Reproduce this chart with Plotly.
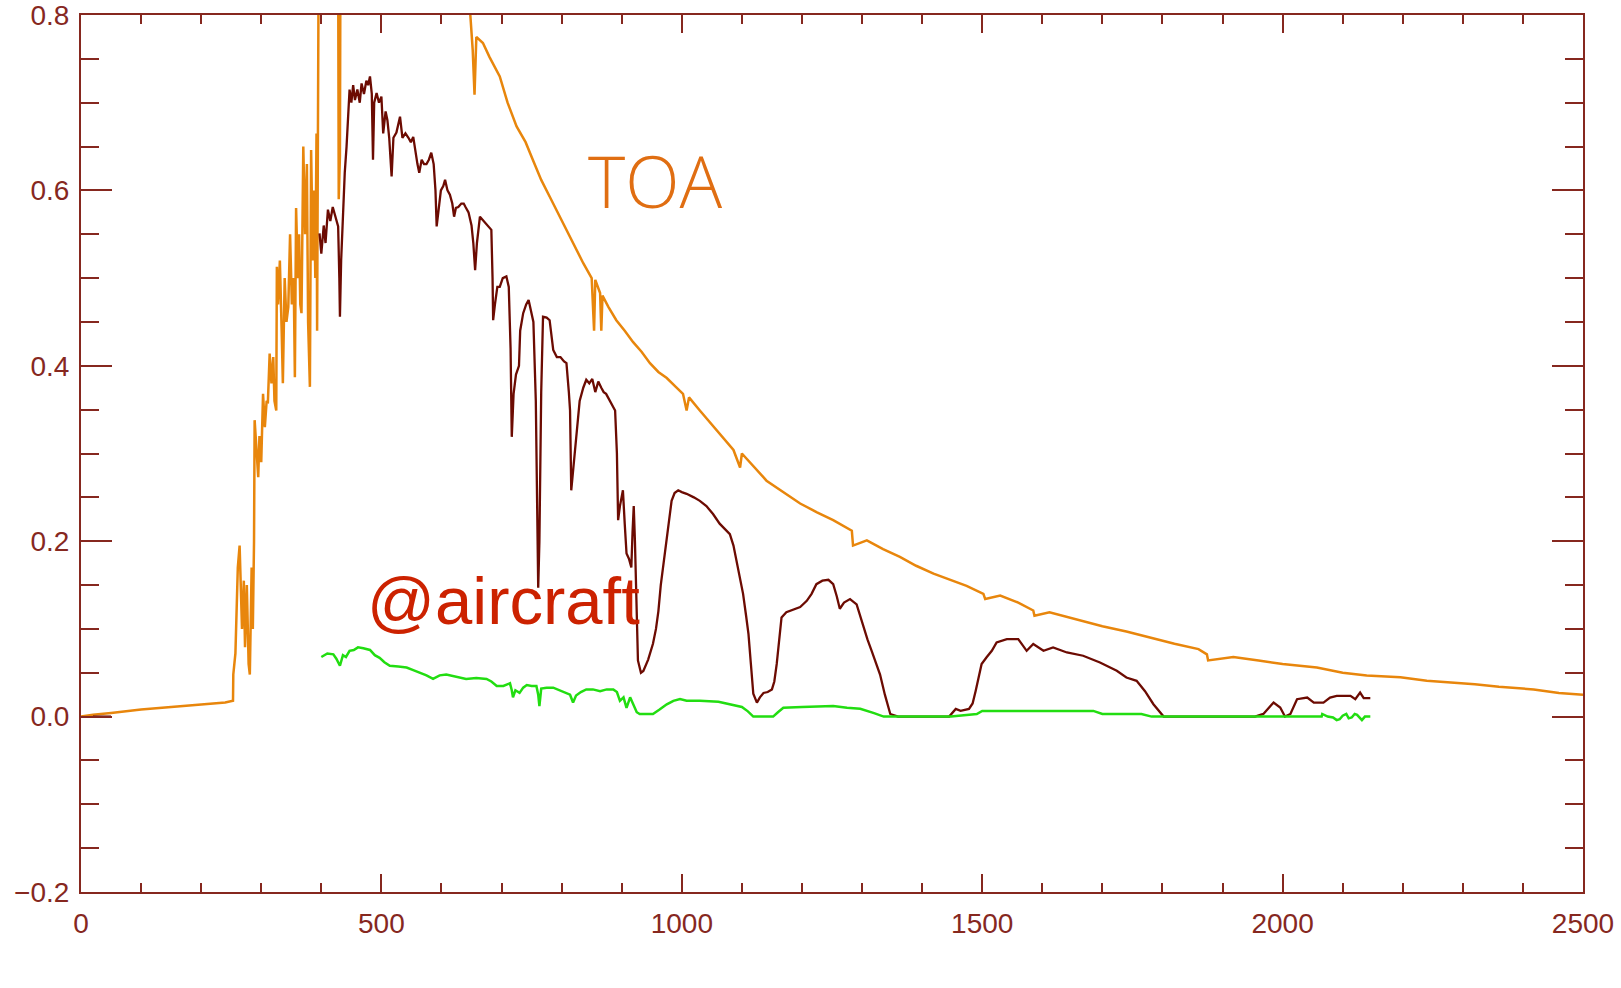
import plotly.graph_objects as go

# ---------------- data ----------------
toa_x = [0, 20, 50, 100, 150, 200, 240, 253, 253.5, 257, 261, 264, 268, 271, 273, 276, 279, 281,
         283, 284, 286, 288, 289, 292, 295, 297, 300, 303, 306, 309, 311, 314, 317, 320, 322,
         325, 326, 328, 331, 334, 336, 339, 342, 345, 348, 351, 354, 356, 358, 361, 363, 365,
         367, 370, 373, 376, 378, 381, 383, 386, 388, 390, 392, 393, 395, 397, 427, 429, 431,
         433, 500, 550, 600, 640, 648, 652, 655, 658, 669, 680, 697, 710, 725, 740, 752, 766,
         780, 794, 808, 822, 836, 850, 854, 856, 860, 864, 866, 868, 878, 891, 905, 919, 933,
         947, 961, 975, 990, 1002, 1008, 1012, 1030, 1058, 1086, 1097, 1100, 1141, 1170, 1197,
         1225, 1252, 1283, 1285, 1308, 1335, 1363, 1390, 1419, 1447, 1474, 1502, 1505, 1530,
         1560, 1585, 1587, 1612, 1641, 1670, 1700, 1740, 1779, 1820, 1860, 1874, 1876, 1918,
         1960, 2000, 2057, 2100, 2140, 2196, 2240, 2279, 2320, 2360, 2418, 2460, 2500]
toa_y = [0.0, 0.002, 0.004, 0.008, 0.011, 0.014, 0.016, 0.018, 0.048, 0.072, 0.170, 0.195,
         0.100, 0.155, 0.079, 0.150, 0.060, 0.048, 0.120, 0.170, 0.100, 0.200, 0.338, 0.300,
         0.273, 0.320, 0.290, 0.368, 0.330, 0.360, 0.357, 0.414, 0.380, 0.410, 0.360, 0.349,
         0.513, 0.470, 0.520, 0.440, 0.380, 0.500, 0.450, 0.467, 0.550, 0.470, 0.500, 0.387,
         0.580, 0.500, 0.550, 0.470, 0.460, 0.650, 0.550, 0.630, 0.450, 0.376, 0.646, 0.520,
         0.600, 0.500, 0.665, 0.440, 0.690, 1.100, 1.150, 0.590, 0.640, 1.200, 1.450, 1.400,
         1.300, 1.050, 0.800, 0.760, 0.709, 0.775, 0.768, 0.752, 0.730, 0.700, 0.673, 0.655,
         0.635, 0.612, 0.593, 0.574, 0.555, 0.536, 0.517, 0.500, 0.440, 0.498, 0.490, 0.483,
         0.440, 0.480, 0.467, 0.452, 0.440, 0.427, 0.416, 0.403, 0.393, 0.386, 0.376, 0.368,
         0.349, 0.364, 0.349, 0.326, 0.304, 0.284, 0.300, 0.269, 0.255, 0.243, 0.233, 0.224,
         0.212, 0.195, 0.201, 0.191, 0.182, 0.172, 0.163, 0.156, 0.149, 0.140, 0.134, 0.138,
         0.130, 0.121, 0.115, 0.119, 0.114, 0.109, 0.103, 0.097, 0.090, 0.083, 0.077, 0.071,
         0.064, 0.068, 0.064, 0.060, 0.056, 0.050, 0.047, 0.045, 0.041, 0.039, 0.037, 0.034,
         0.031, 0.027, 0.025, 0.024]

air_x = [20, 50, None,
         397, 400, 404, 407, 411, 415, 419, 424, 428, 430, 431, 433, 436, 439, 442, 445, 447,
         450, 453, 456, 460, 464, 467, 471, 475, 478, 481, 484, 486, 488, 492, 496, 500, 503,
         507, 510, 513, 517, 520, 525, 528, 531, 535, 540, 545, 549, 553, 557, 560, 563, 567,
         571, 575, 579, 583, 587, 590, 592, 595, 599, 603, 606, 610, 614, 618, 621, 624, 628,
         633, 637, 640, 645, 650, 653, 656, 659, 664, 670, 676, 683, 685, 686, 689, 693, 697,
         702, 708, 712, 715, 717, 720, 724, 729, 731, 736, 741, 745, 750, 753, 757, 759, 761,
         763, 766, 769, 775, 780, 786, 792, 798, 804, 808, 812, 814, 816, 819, 822, 825, 830,
         836, 841, 846, 851, 856, 861, 866, 870, 874, 880, 885, 889, 892, 894, 897, 900, 902,
         905, 908, 912, 916, 918, 920, 922, 924, 927, 932, 936, 944, 952, 957, 961, 965, 969,
         973, 977, 983, 988, 994, 1000, 1008, 1020, 1030, 1041, 1052, 1063, 1072, 1080, 1086,
         1091, 1097, 1102, 1107, 1111, 1115, 1119, 1125, 1130, 1136, 1143, 1150, 1154, 1158,
         1162, 1166, 1174, 1185, 1197, 1208, 1216, 1224, 1234, 1244, 1252, 1258, 1263, 1270,
         1280, 1291, 1297, 1302, 1309, 1316, 1323, 1330, 1338, 1347, 1360, 1445, 1456, 1464,
         1478, 1484, 1489, 1494, 1499, 1507, 1516, 1524, 1541, 1560, 1574, 1585, 1602, 1618,
         1641, 1668, 1696, 1724, 1740, 1757, 1771, 1785, 1802, 1954, 1968, 1985, 1996, 2004,
         2013, 2024, 2041, 2052, 2068, 2079, 2090, 2113, 2121, 2129, 2135, 2146]
air_y = [0.0, 0.0, None,
         0.551, 0.528, 0.560, 0.540, 0.578, 0.565, 0.581, 0.570, 0.559, 0.500, 0.456, 0.520,
         0.581, 0.620, 0.650, 0.690, 0.715, 0.700, 0.720, 0.703, 0.715, 0.700, 0.722, 0.710,
         0.725, 0.720, 0.730, 0.710, 0.635, 0.700, 0.711, 0.700, 0.707, 0.665, 0.690, 0.680,
         0.660, 0.616, 0.660, 0.666, 0.675, 0.684, 0.660, 0.665, 0.660, 0.655, 0.661, 0.640,
         0.630, 0.620, 0.635, 0.630, 0.630, 0.635, 0.643, 0.630, 0.600, 0.559, 0.580, 0.600,
         0.605, 0.612, 0.600, 0.595, 0.585, 0.570, 0.580, 0.581, 0.585, 0.585, 0.581, 0.575,
         0.560, 0.540, 0.509, 0.540, 0.570, 0.565, 0.560, 0.555, 0.500, 0.452, 0.470, 0.490,
         0.490, 0.500, 0.502, 0.490, 0.420, 0.319, 0.368, 0.390, 0.400, 0.440, 0.460, 0.470,
         0.475, 0.460, 0.450, 0.360, 0.250, 0.147, 0.200, 0.370, 0.456, 0.455, 0.452, 0.418,
         0.410, 0.410, 0.405, 0.403, 0.370, 0.349, 0.258, 0.280, 0.300, 0.323, 0.360, 0.375,
         0.384, 0.380, 0.385, 0.370, 0.382, 0.375, 0.370, 0.368, 0.360, 0.355, 0.349, 0.300,
         0.224, 0.240, 0.250, 0.258, 0.220, 0.186, 0.180, 0.170, 0.210, 0.240, 0.200, 0.150,
         0.064, 0.050, 0.052, 0.065, 0.083, 0.100, 0.120, 0.150, 0.170, 0.190, 0.212, 0.246,
         0.255, 0.258, 0.256, 0.254, 0.250, 0.246, 0.240, 0.231, 0.220, 0.213, 0.208, 0.195,
         0.178, 0.160, 0.140, 0.115, 0.094, 0.060, 0.026, 0.016, 0.022, 0.027, 0.028, 0.031,
         0.040, 0.060, 0.090, 0.113, 0.119, 0.122, 0.125, 0.132, 0.140, 0.151, 0.155, 0.156,
         0.151, 0.137, 0.123, 0.130, 0.134, 0.128, 0.115, 0.102, 0.088, 0.075, 0.062, 0.048,
         0.025, 0.003, 0.0, 0.0, 0.0087, 0.0065, 0.0087, 0.015, 0.029, 0.0446, 0.060, 0.0674,
         0.075, 0.0846, 0.0884, 0.0884, 0.075, 0.0827, 0.075, 0.0789, 0.0731, 0.0694, 0.0617,
         0.0522, 0.0446, 0.0408, 0.029, 0.0141, 0.0, 0.0, 0.003, 0.016, 0.0103, 0.0, 0.003,
         0.0198, 0.0217, 0.016, 0.016, 0.0217, 0.0236, 0.0236, 0.0198, 0.0274, 0.021, 0.021]

low_x = [400, 410, 420, 425, 431, 436, 441, 447, 454, 461, 470, 481, 489, 497, 505, 514, 528,
         542, 553, 564, 575, 586, 597, 608, 625, 641, 658, 675, 683, 692, 703, 714, 717, 719,
         723, 730, 736, 742, 750, 758, 761, 763, 766, 775, 786, 797, 808, 814, 819, 824, 832,
         841, 852, 864, 875, 886, 892, 897, 903, 908, 914, 919, 925, 930, 940, 952, 963, 975,
         986, 997, 1008, 1030, 1061, 1086, 1100, 1110, 1119, 1140, 1152, 1160, 1169, 1200,
         1230, 1252, 1275, 1297, 1320, 1336, 1400, 1448, 1491, 1500, 1600, 1685, 1700, 1765,
         1782, 1900, 2000, 2065, 2066, 2075, 2084, 2090, 2095, 2100, 2106, 2110, 2115, 2120,
         2124, 2132, 2137, 2141, 2146]
low_y = [0.068, 0.072, 0.071, 0.066, 0.058, 0.070, 0.068, 0.075, 0.076, 0.079, 0.078, 0.076,
         0.070, 0.067, 0.062, 0.058, 0.057, 0.056, 0.053, 0.050, 0.047, 0.043, 0.047, 0.048,
         0.045, 0.043, 0.044, 0.043, 0.040, 0.035, 0.035, 0.038, 0.030, 0.022, 0.030, 0.027,
         0.033, 0.036, 0.035, 0.035, 0.025, 0.012, 0.032, 0.033, 0.033, 0.030, 0.027, 0.025,
         0.016, 0.024, 0.028, 0.031, 0.031, 0.029, 0.031, 0.031, 0.028, 0.018, 0.022, 0.010,
         0.022, 0.015, 0.005, 0.003, 0.003, 0.003, 0.008, 0.014, 0.018, 0.020, 0.018, 0.018,
         0.017, 0.013, 0.011, 0.006, 0.0, 0.0, 0.0, 0.005, 0.010, 0.011, 0.012, 0.012, 0.010,
         0.009, 0.004, 0.0, 0.0, 0.0, 0.003, 0.0065, 0.0065, 0.0065, 0.003, 0.003, 0.0, 0.0,
         0.0, 0.0, 0.003, 0.0, -0.001, -0.004, -0.003, 0.001, 0.003, -0.002, -0.001, 0.003,
         0.002, -0.004, 0.0, 0.0, 0.0]

x_ticks = [0, 500, 1000, 1500, 2000, 2500]
y_ticks = [-0.2, 0.0, 0.2, 0.4, 0.6, 0.8]

# ---------------- styling ----------------
AXIS = "#86281f"
ORANGE = "#e8860c"
BROWN = "#6c0b02"
GREEN = "#22dd11"

fig = go.Figure()
fig.add_trace(go.Scatter(x=toa_x, y=toa_y, mode="lines",
                         line=dict(color=ORANGE, width=2.5), hoverinfo="skip"))
fig.add_trace(go.Scatter(x=air_x, y=air_y, mode="lines",
                         line=dict(color=BROWN, width=2.3), hoverinfo="skip"))
fig.add_trace(go.Scatter(x=low_x, y=low_y, mode="lines",
                         line=dict(color=GREEN, width=2.5), hoverinfo="skip"))

tickfont = dict(family="Liberation Sans", size=28, color=AXIS)

fig.update_layout(
    width=1621, height=988,
    margin=dict(l=81, r=38, t=15, b=96, autoexpand=False),
    paper_bgcolor="white", plot_bgcolor="white",
    showlegend=False,
    xaxis=dict(range=[0, 2500], tickvals=x_ticks, ticktext=[str(v) for v in x_ticks],
               ticks="inside", ticklen=18, tickwidth=2, tickcolor=AXIS,
               minor=dict(dtick=100, ticks="inside", ticklen=9, tickwidth=2, tickcolor=AXIS),
               showline=True, linecolor=AXIS, linewidth=2, mirror="allticks",
               showgrid=False, zeroline=False, tickfont=tickfont, ticklabelstandoff=5,
               ticklabeloverflow="allow", automargin=False),
    yaxis=dict(range=[-0.2, 0.8], tickvals=y_ticks,
               ticktext=["\u22120.2", "0.0", "0.2", "0.4", "0.6", "0.8"],
               ticks="inside", ticklen=31, tickwidth=2, tickcolor=AXIS,
               minor=dict(dtick=0.05, ticks="inside", ticklen=18, tickwidth=2, tickcolor=AXIS),
               showline=True, linecolor=AXIS, linewidth=2, mirror="allticks",
               showgrid=False, zeroline=False, tickfont=tickfont, ticklabelstandoff=4,
               ticklabeloverflow="allow", automargin=False),
    annotations=[
        dict(x=840, y=0.611, xref="x", yref="y", text="TOA", showarrow=False,
             xanchor="left", yanchor="middle",
             font=dict(family="Open Sans", size=71, color="#e06e12", weight=300)),
        dict(x=472, y=0.1325, xref="x", yref="y", text="@aircraft", showarrow=False,
             xanchor="left", yanchor="middle",
             font=dict(family="Liberation Sans", size=67, color="#cc2200")),
    ],
)

fig.write_html("out.html")
